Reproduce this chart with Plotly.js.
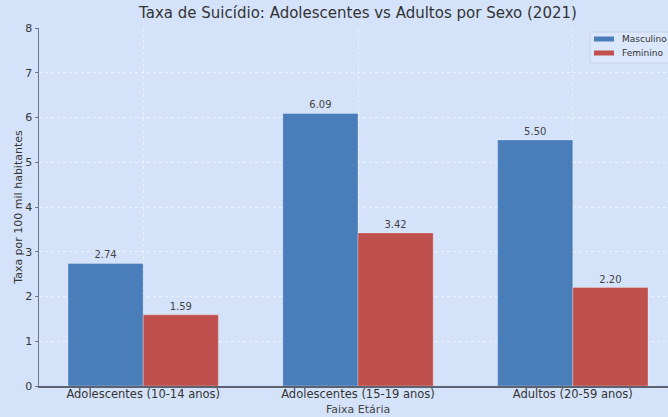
<!DOCTYPE html>
<html>
<head>
<meta charset="utf-8">
<script src="https://cdn.plot.ly/plotly-3.0.1.min.js"></script>
<style>
html,body{margin:0;padding:0;overflow:hidden;background:#d5e3fa;}
#chart{width:700px;height:417px;}
</style>
</head>
<body>
<div id="chart"></div>
<script>
const categories = ["Adolescentes (10-14 anos)", "Adolescentes (15-19 anos)", "Adultos (20-59 anos)"];
const masculino = [2.74, 6.09, 5.50];
const feminino = [1.59, 3.42, 2.20];
const seriesNames = ["Masculino", "Feminino"];
const seriesColors = ["#4a7ebb", "#c0504d"];
const yTicks = [0, 1, 2, 3, 4, 5, 6, 7, 8];

const font = "DejaVu Sans, Verdana, sans-serif";
const common = {
  type: "bar",
  x: categories,
  texttemplate: "%{y:.2f}",
  textposition: "outside",
  textfont: {family: font, size: 10, color: "#444"},
  cliponaxis: false,
  hoverinfo: "none",
  showlegend: false
};
const traces = [
  Object.assign({}, common, {name: seriesNames[0], y: masculino,
    marker: {color: seriesColors[0], line: {color: "rgba(255,255,255,0.35)", width: 0.8}}}),
  Object.assign({}, common, {name: seriesNames[1], y: feminino,
    marker: {color: seriesColors[1], line: {color: "rgba(255,255,255,0.35)", width: 0.8}}})
];

// Plot area: 638 px wide (paper 0..1), 358 px tall
const W = 638, H = 358;
const px = v => v / W;
const py = v => v / H;

const legendLeft = 590 - 39;
const shapes = [
  {type: "rect", xref: "paper", yref: "paper",
   x0: px(legendLeft), x1: px(legendLeft + 120), y0: 1 - py(4), y1: 1 - py(35),
   fillcolor: "rgba(220,232,252,0.85)", line: {color: "#c6d0e0", width: 1}}
];
const annotations = [
  {text: "Faixa Etária", xref: "paper", yref: "paper", x: 0.5, y: 0, yshift: -23,
   xanchor: "center", yanchor: "middle", showarrow: false,
   font: {family: font, size: 11, color: "#444"}}
];
seriesNames.forEach((n, i) => {
  const cy = 11 + i * 14;
  shapes.push({type: "rect", xref: "paper", yref: "paper",
    x0: px(594 - 39), x1: px(614 - 39), y0: 1 - py(cy - 2.5), y1: 1 - py(cy + 2.5),
    fillcolor: seriesColors[i], line: {width: 0}});
  annotations.push({text: n, xref: "paper", yref: "paper", x: px(620 - 39), y: 1 - py(cy),
    xanchor: "left", yanchor: "middle", showarrow: false,
    font: {family: font, size: 9, color: "#333"}});
});

const layout = {
  width: 700, height: 417,
  margin: {l: 39, r: 23, t: 28, b: 31},
  paper_bgcolor: "#d5e3fa",
  plot_bgcolor: "#d5e3fa",
  font: {family: font, color: "#333"},
  barmode: "group",
  bargap: 0.3,
  bargroupgap: 0,
  showlegend: false,
  title: {text: "Taxa de Suicídio: Adolescentes vs Adultos por Sexo (2021)",
    font: {family: font, size: 15, color: "#333"}, x: 0.5, xref: "paper", y: 1, yref: "container", yanchor: "top", pad: {t: 7}},
  xaxis: {
    range: [-0.485, 2.485],
    tickfont: {family: font, size: 11.5, color: "#333"},
    showline: true, linecolor: "#5c6270", linewidth: 2,
    ticks: "",
    ticklabelstandoff: -4,
    showgrid: true, gridcolor: "rgba(255,255,255,0.55)", griddash: "dot", gridwidth: 1,
    zeroline: false
  },
  yaxis: {
    range: [0, 8],
    tickvals: yTicks,
    title: {text: "Taxa por 100 mil habitantes", font: {family: font, size: 11, color: "#333"}, standoff: 0},
    tickfont: {family: font, size: 11, color: "#333"},
    showline: true, linecolor: "#6a7588", linewidth: 1.5,
    ticks: "outside", ticklen: 3, tickcolor: "#6a7588",
    showgrid: true, gridcolor: "rgba(255,255,255,0.55)", griddash: "dot", gridwidth: 1,
    zeroline: false
  },
  shapes: shapes,
  annotations: annotations
};

Plotly.newPlot("chart", traces, layout, {displayModeBar: false, staticPlot: true});
</script>
</body>
</html>
